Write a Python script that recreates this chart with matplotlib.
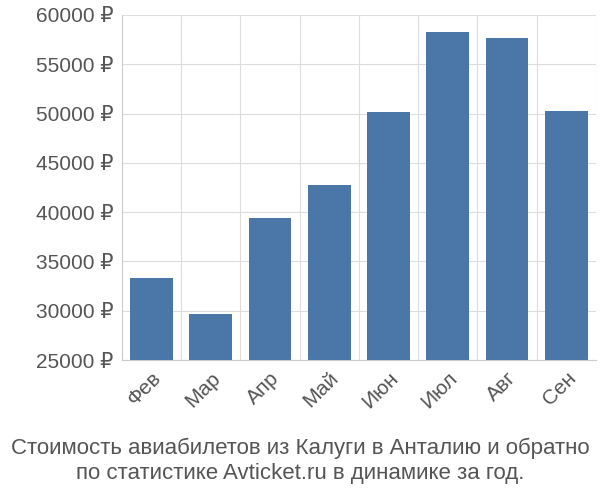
import matplotlib
matplotlib.use("Agg")
import matplotlib.pyplot as plt
import numpy as np

months = ["Фев", "Мар", "Апр", "Май", "Июн", "Июл", "Авг", "Сен"]
prices = [33300, 29700, 39400, 42800, 50200, 58300, 57700, 50300]
yticks = [25000, 30000, 35000, 40000, 45000, 50000, 55000, 60000]

plt.rcParams['font.family'] = ['Liberation Sans', 'DejaVu Sans']
fig = plt.figure(figsize=(6, 5), dpi=100)
ax = fig.add_axes([0.203, 0.28, 0.79, 0.69])
x = np.arange(len(months))
ax.bar(x, prices, width=0.72, color="#4a76a8", zorder=3)
ax.set_ylim(25000, 60000)
ax.set_xlim(-0.5, len(months) - 0.5)
ax.set_yticks(yticks)
ax.set_yticklabels([f"{v} ₽" for v in yticks], fontsize=15, color="#555555")
ax.set_xticks(x)
ax.set_xticklabels(months, rotation=45, ha="right", rotation_mode="anchor", fontsize=15, color="#555555")
ax.set_xticks(np.arange(-0.5, len(months)), minor=True)
ax.grid(axis="x", which="minor", color="#dddddd", zorder=0)
ax.grid(axis="y", which="major", color="#dddddd", zorder=0)
ax.tick_params(axis="x", which="both", length=0, pad=6)
ax.tick_params(axis="y", length=0, pad=6)
for s in ["top", "right"]:
    ax.spines[s].set_visible(False)
ax.spines["left"].set_color("#cccccc")
ax.spines["bottom"].set_color("#cccccc")
fig.text(0.5, 0.078, "Стоимость авиабилетов из Калуги в Анталию и обратно\nпо статистике Avticket.ru в динамике за год.",
         ha="center", va="center", fontsize=16, color="#555555", linespacing=1.25)
fig.savefig("out.png")
